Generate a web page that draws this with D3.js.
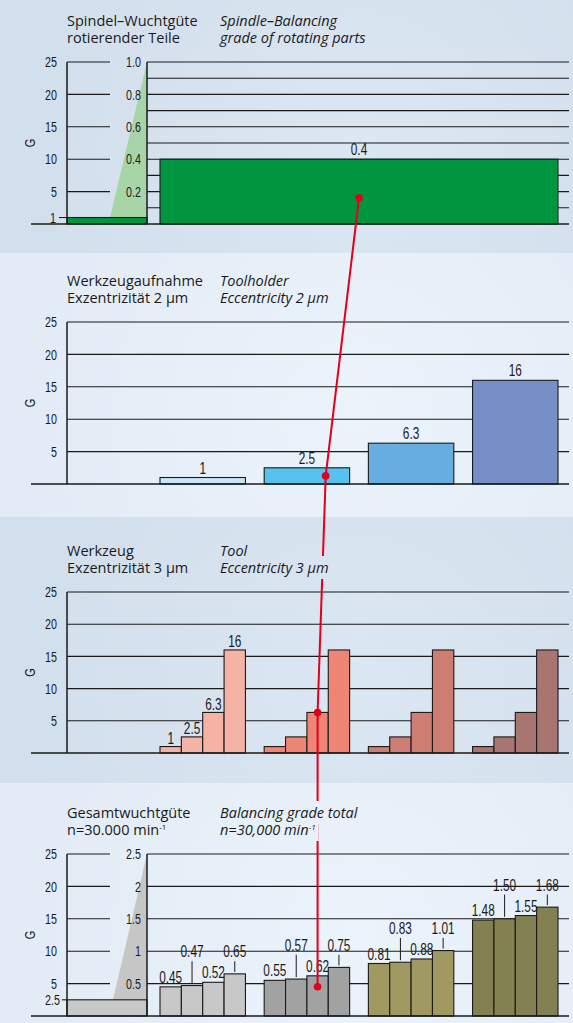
<!DOCTYPE html>
<html>
<head>
<meta charset="utf-8">
<script src="https://cdn.jsdelivr.net/npm/d3@7"></script>
<style>
  body { margin: 0; background: #e5eef8; }
  svg { display: block; }
  .title { font-family: "Open Sans", sans-serif; font-size: 14.5px; fill: #1a1a1a; }
  .num { font-family: "Liberation Sans", Arial, sans-serif; fill: #1a1a1a; }
</style>
</head>
<body>
<div id="chart"></div>
<script>
// ---- data ----
var titlesDe = [
    ["Spindel\u2013Wuchtgüte", "rotierender Teile"],
    ["Werkzeugaufnahme", "Exzentrizität 2 µm"],
    ["Werkzeug", "Exzentrizität 3 µm"],
    ["Gesamtwuchtgüte", "n=30.000 min"]
];
var titlesEn = [
    ["Spindle\u2013Balancing", "grade of rotating parts"],
    ["Toolholder", "Eccentricity 2 µm"],
    ["Tool", "Eccentricity 3 µm"],
    ["Balancing grade total", "n=30,000 min"]
];
var gTicks = [25, 20, 15, 10, 5];
var spindleTicks = [1.0, 0.8, 0.6, 0.4, 0.2];
var totalTicks = [2.5, 2, 1.5, 1, 0.5];

var spindleG = 1;          // left bar, G scale
var spindleValue = 0.4;    // main bar, 0..1 scale
var holderValues = [1, 2.5, 6.3, 16];
var toolValues = [1, 2.5, 6.3, 16];
var totalG = 2.5;          // left bar, G scale
var totalValues = [
    [0.45, 0.47, 0.52, 0.65],
    [0.55, 0.57, 0.62, 0.75],
    [0.81, 0.83, 0.88, 1.01],
    [1.48, 1.50, 1.55, 1.68]
];
var selHolder = 1, selTool = 2;

var holderColors = ["#c9e6f7", "#57c2ee", "#67ade0", "#768fc7"];
var toolColors = ["#f5b3a6", "#ef8675", "#cd7d72", "#a97571"];
var totalColors = ["#c8c8c8", "#a2a2a2", "#a09a62", "#838152"];

// ---- layout ----
var W = 573, H = 1023;
var xAxis = 67, xSec = 147, xLeftGrid = 110, xBase0 = 31, xRight = 569;
var squeeze = 0.74;   // condensed look for the numbers
var tickSize = 14.5, labelSize = 16;

var panels = [
    {y0: 0, y1: 253, top: 62, base: 224, dark: true},
    {y0: 253, y1: 517, top: 322, base: 484, dark: false},
    {y0: 517, y1: 783, top: 592, base: 753, dark: true},
    {y0: 783, y1: 1023, top: 854, base: 1016, dark: false}
];

var xGroup = d3.scaleBand().domain(d3.range(4)).range([160, 558]).paddingInner(0.18);
var xInner = d3.scaleBand().domain(d3.range(4)).range([0, xGroup.bandwidth()]);

var svg = d3.select("#chart").append("svg")
    .attr("width", W)
    .attr("height", H);

var defs = svg.append("defs");

panels.forEach(function(p, i) {
    p.y = d3.scaleLinear().domain([0, 25]).range([p.base, p.top]);
    var grad = defs.append("radialGradient")
        .attr("id", "bg" + i)
        .attr("gradientUnits", "userSpaceOnUse")
        .attr("cx", 360).attr("cy", (p.y0 + p.y1) / 2 + 30)
        .attr("r", 330);
    grad.append("stop").attr("offset", 0).attr("stop-color", p.dark ? "#dbe7f2" : "#ebf3fb");
    grad.append("stop").attr("offset", 1).attr("stop-color", p.dark ? "#d2dfec" : "#e3ecf6");
    p.g = svg.append("g");
    p.g.append("rect")
        .attr("x", 0).attr("y", p.y0)
        .attr("width", W).attr("height", p.y1 - p.y0)
        .attr("fill", "url(#bg" + i + ")");
});

function line(g, x1, y1, x2, y2, w) {
    return g.append("line")
        .attr("x1", x1).attr("y1", y1).attr("x2", x2).attr("y2", y2)
        .attr("stroke", "#1a1a1a")
        .attr("stroke-width", w || 1.1);
}

function at(x, y) {
    return "translate(" + x + "," + y + ") scale(" + squeeze + ",1)";
}

function num(g, x, y, s, size, anchor) {
    return g.append("text")
        .attr("class", "num")
        .attr("transform", at(x, y))
        .attr("text-anchor", anchor || "middle")
        .style("font-size", size + "px")
        .text(s);
}

function gAxisLabels(p) {
    p.g.append("g").selectAll("text")
        .data(gTicks)
        .join("text")
        .attr("class", "num")
        .attr("transform", d => at(57, p.y(d)))
        .attr("dy", "0.36em")
        .attr("text-anchor", "end")
        .style("font-size", tickSize + "px")
        .text(d => d);
    p.g.append("text")
        .attr("class", "num")
        .attr("transform", "translate(35," + (p.top + p.base) / 2 + ") rotate(-90) scale(" + squeeze + ",1)")
        .attr("text-anchor", "middle")
        .style("font-size", "15px")
        .text("G");
}

function secLabels(p, ys, ticks, fmt) {
    p.g.append("g").selectAll("text")
        .data(ticks)
        .join("text")
        .attr("class", "num")
        .attr("transform", d => at(141, ys(d)))
        .attr("dy", "0.36em")
        .attr("text-anchor", "end")
        .style("font-size", tickSize + "px")
        .text(fmt);
}

// ---- panel 1 : spindle ----
var p1 = panels[0];
var ySp = d3.scaleLinear().domain([0, 1]).range([p1.base, p1.top]);

p1.g.append("g").selectAll("line")
    .data(ySp.ticks(10).filter(d => d > 0))
    .join("line")
    .attr("x1", xSec).attr("x2", xRight)
    .attr("y1", d => ySp(d)).attr("y2", d => ySp(d))
    .attr("stroke", "#1a1a1a").attr("stroke-width", 1.1);

p1.g.append("g").selectAll("line")
    .data(gTicks)
    .join("line")
    .attr("x1", xAxis).attr("x2", xLeftGrid)
    .attr("y1", d => p1.y(d)).attr("y2", d => p1.y(d))
    .attr("stroke", "#1a1a1a").attr("stroke-width", 1.1);

p1.g.append("polygon")
    .attr("points", [[xLeftGrid, p1.y(spindleG)], [xSec, p1.top], [xSec, p1.y(spindleG)]].join(" "))
    .attr("fill", "#a8d5a7");

p1.g.append("rect")
    .attr("x", xAxis).attr("y", p1.y(spindleG))
    .attr("width", xSec - xAxis).attr("height", p1.base - p1.y(spindleG))
    .attr("fill", "#00963f").attr("stroke", "#1a1a1a").attr("stroke-width", 1.1);

line(p1.g, 59, p1.y(spindleG), xAxis, p1.y(spindleG));
num(p1.g, 56, p1.y(spindleG) + 5, spindleG, tickSize, "end");

var mainX0 = xGroup(0), mainX1 = xGroup(3) + xGroup.bandwidth();
p1.g.append("rect")
    .attr("x", mainX0).attr("y", ySp(spindleValue))
    .attr("width", mainX1 - mainX0).attr("height", p1.base - ySp(spindleValue))
    .attr("fill", "#00963f").attr("stroke", "#1a1a1a").attr("stroke-width", 1.1);

num(p1.g, (mainX0 + mainX1) / 2, ySp(spindleValue) - 4, spindleValue, labelSize);

gAxisLabels(p1);
secLabels(p1, ySp, spindleTicks, d3.format(".1f"));
line(p1.g, xAxis, p1.top, xAxis, p1.base, 1.5);
line(p1.g, xSec, p1.top, xSec, p1.base, 1.5);
line(p1.g, xBase0, p1.base, xRight, p1.base, 1.5);

// ---- panel 2 : toolholder ----
var p2 = panels[1];
p2.g.append("g").selectAll("line")
    .data(gTicks)
    .join("line")
    .attr("x1", xAxis).attr("x2", xRight)
    .attr("y1", d => p2.y(d)).attr("y2", d => p2.y(d))
    .attr("stroke", "#1a1a1a").attr("stroke-width", 1.1);

p2.g.append("g").selectAll("rect")
    .data(holderValues)
    .join("rect")
    .attr("x", (d, i) => xGroup(i))
    .attr("y", d => p2.y(d))
    .attr("width", xGroup.bandwidth())
    .attr("height", d => p2.base - p2.y(d))
    .attr("fill", (d, i) => holderColors[i])
    .attr("stroke", "#1a1a1a").attr("stroke-width", 1.1);

p2.g.append("g").selectAll("text")
    .data(holderValues)
    .join("text")
    .attr("class", "num")
    .attr("transform", (d, i) => at(xGroup(i) + xGroup.bandwidth() / 2, p2.y(d) - 4))
    .attr("text-anchor", "middle").style("font-size", labelSize + "px")
    .text(d => d);

gAxisLabels(p2);
line(p2.g, xAxis, p2.top, xAxis, p2.base, 1.5);
line(p2.g, xBase0, p2.base, xRight, p2.base, 1.5);

// ---- panel 3 : tool ----
var p3 = panels[2];
p3.g.append("g").selectAll("line")
    .data(gTicks)
    .join("line")
    .attr("x1", xAxis).attr("x2", xRight)
    .attr("y1", d => p3.y(d)).attr("y2", d => p3.y(d))
    .attr("stroke", "#1a1a1a").attr("stroke-width", 1.1);

var toolGroups = p3.g.append("g").selectAll("g")
    .data(holderValues)
    .join("g")
    .attr("transform", (d, i) => "translate(" + xGroup(i) + ",0)");

toolGroups.selectAll("rect")
    .data((d, gi) => toolValues.map(v => ({v: v, gi: gi})))
    .join("rect")
    .attr("x", (d, i) => xInner(i))
    .attr("y", d => p3.y(d.v))
    .attr("width", xInner.bandwidth())
    .attr("height", d => p3.base - p3.y(d.v))
    .attr("fill", d => toolColors[d.gi])
    .attr("stroke", "#1a1a1a").attr("stroke-width", 1.1);

p3.g.append("g").selectAll("text")
    .data(toolValues)
    .join("text")
    .attr("class", "num")
    .attr("transform", (d, i) => at(xGroup(0) + xInner(i) + xInner.bandwidth() / 2, p3.y(d) - 2.5))
    .attr("text-anchor", "middle").style("font-size", labelSize + "px")
    .text(d => d);

gAxisLabels(p3);
line(p3.g, xAxis, p3.top, xAxis, p3.base, 1.5);
line(p3.g, xBase0, p3.base, xRight, p3.base, 1.5);

// ---- panel 4 : total ----
var p4 = panels[3];
var yTot = d3.scaleLinear().domain([0, 2.5]).range([p4.base, p4.top]);

p4.g.append("g").selectAll("line")
    .data(totalTicks)
    .join("line")
    .attr("x1", xSec).attr("x2", xRight)
    .attr("y1", d => yTot(d)).attr("y2", d => yTot(d))
    .attr("stroke", "#1a1a1a").attr("stroke-width", 1.1);

p4.g.append("g").selectAll("line")
    .data(gTicks)
    .join("line")
    .attr("x1", xAxis).attr("x2", xLeftGrid)
    .attr("y1", d => p4.y(d)).attr("y2", d => p4.y(d))
    .attr("stroke", "#1a1a1a").attr("stroke-width", 1.1);

p4.g.append("polygon")
    .attr("points", [[xLeftGrid + 3, p4.y(totalG)], [xSec, p4.top], [xSec, p4.y(totalG)]].join(" "))
    .attr("fill", "#c6c6c6");

p4.g.append("rect")
    .attr("x", xAxis).attr("y", p4.y(totalG))
    .attr("width", xSec - xAxis).attr("height", p4.base - p4.y(totalG))
    .attr("fill", "#c8c8c8").attr("stroke", "#1a1a1a").attr("stroke-width", 1.1);

line(p4.g, 62, p4.y(totalG), xAxis, p4.y(totalG));
num(p4.g, 60, p4.y(totalG) + 5, totalG, tickSize, "end");

var totGroups = p4.g.append("g").selectAll("g")
    .data(totalValues)
    .join("g")
    .attr("transform", (d, i) => "translate(" + xGroup(i) + ",0)");

totGroups.selectAll("rect")
    .data((d, gi) => d.map(v => ({v: v, gi: gi})))
    .join("rect")
    .attr("x", (d, i) => xInner(i))
    .attr("y", d => yTot(d.v))
    .attr("width", xInner.bandwidth())
    .attr("height", d => p4.base - yTot(d.v))
    .attr("fill", d => totalColors[d.gi])
    .attr("stroke", "#1a1a1a").attr("stroke-width", 1.1);

// labels alternate low / high, high ones get a leader line
totGroups.each(function(vals) {
    var g = d3.select(this);
    var low = vals.map(v => yTot(v) - 4);
    var high = d3.min(low.filter((d, i) => i % 2 === 0)) - 21;
    vals.forEach(function(v, i) {
        var cx = xInner(i) + xInner.bandwidth() / 2;
        var yb = i % 2 === 0 ? low[i] : high;
        num(g, cx, yb, d3.format(".2f")(v), labelSize);
        if (i % 2 === 1) line(g, cx, yb + 4, cx, yTot(v) - 2, 1);
    });
});

gAxisLabels(p4);
secLabels(p4, yTot, totalTicks, d => d);
line(p4.g, xAxis, p4.top, xAxis, p4.base, 1.5);
line(p4.g, xSec, p4.top, xSec, p4.base, 1.5);
line(p4.g, xBase0, p4.base, xRight, p4.base, 1.5);

// ---- titles ----
function title(p, lines, x, italic, sup) {
    var t = svg.append("g");
    lines.forEach(function(s, k) {
        var txt = t.append("text")
            .attr("class", "title")
            .attr("x", x)
            .attr("y", p.top - 36 + k * 17)
            .style("font-style", italic ? "italic" : "normal")
            .text(s);
        if (sup && k === 1) {
            txt.append("tspan")
                .attr("dy", -5)
                .style("font-size", "8px")
                .text("\u20111");
        }
    });
    return t;
}

panels.forEach(function(p, i) {
    title(p, titlesDe[i], 67, false, i === 3);
});

// ---- red selection path ----
var holderBarTop = p2.y(holderValues[selHolder]);
var pts = [
    [(mainX0 + mainX1) / 2, p1.base - 0.4 * (p1.base - ySp(spindleValue))],
    [xGroup(selHolder) + 0.72 * xGroup.bandwidth(), (holderBarTop + p2.base) / 2],
    [xGroup(selHolder) + xInner(selTool) + xInner.bandwidth() / 2, p3.y(toolValues[selTool])],
    [xGroup(selHolder) + xInner(selTool) + xInner.bandwidth() / 2, yTot(totalValues[selHolder][selTool]) + 11]
];

svg.append("path")
    .attr("d", d3.line()(pts))
    .attr("fill", "none")
    .attr("stroke", "#e2001a")
    .attr("stroke-width", 2);

// english titles knock the red line out
panels.forEach(function(p, i) {
    var t = title(p, titlesEn[i], 220, true, i === 3);
    t.selectAll("text").each(function() {
        var b = this.getBBox();
        t.insert("rect", "text")
            .attr("x", b.x - 3).attr("y", b.y - 2)
            .attr("width", b.width + 6).attr("height", b.height + 4)
            .attr("fill", "url(#bg" + i + ")");
    });
});

svg.append("g").selectAll("circle")
    .data(pts)
    .join("circle")
    .attr("cx", d => d[0]).attr("cy", d => d[1])
    .attr("r", 3.8)
    .attr("fill", "#e2001a");
</script>
</body>
</html>
